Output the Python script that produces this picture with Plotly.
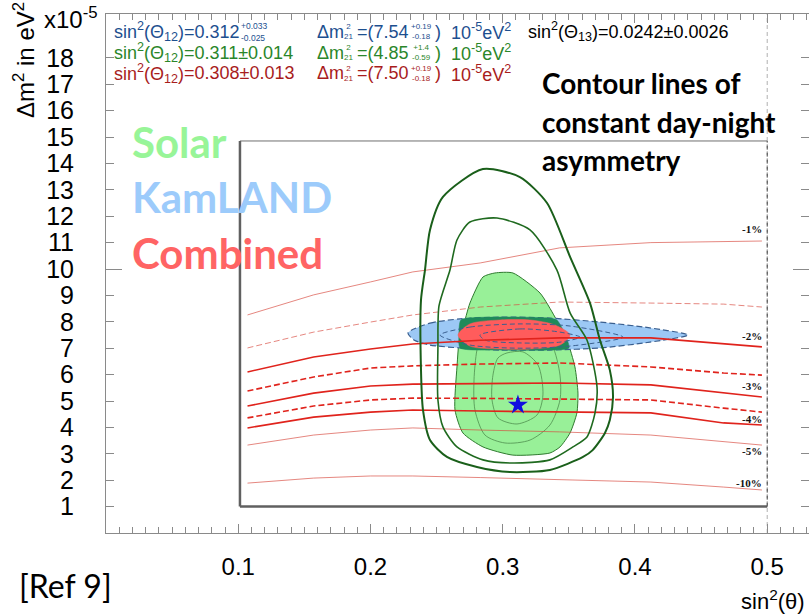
import plotly.graph_objects as go

# ---------------- data ----------------
# day-night asymmetry contour lines (common x grid)
dn_x = [0.107, 0.157, 0.200, 0.232, 0.283, 0.343, 0.412, 0.467, 0.496]
dn_m1 = [8.26, 9.02, 9.51, 9.89, 10.23, 10.80, 11.00, 11.04, 11.06]
dn_m15 = [7.01, 7.61, 7.99, 8.26, 8.56, 8.75, 8.71, 8.67, 8.56]
dn_m2 = [6.10, 6.67, 6.97, 7.16, 7.30, 7.39, 7.39, 7.16, 7.05]
dn_m25 = [5.38, 5.91, 6.25, 6.33, 6.40, 6.44, 6.29, 6.06, 5.98]
dn_m3 = [4.81, 5.30, 5.57, 5.64, 5.66, 5.68, 5.61, 5.30, 5.15]
dn_m35 = [4.36, 4.81, 5.04, 5.11, 5.10, 5.08, 5.04, 4.73, 4.58]
dn_m4 = [3.98, 4.39, 4.58, 4.66, 4.62, 4.58, 4.55, 4.17, 4.09]
dn_m5 = [3.33, 3.71, 3.90, 3.98, 3.90, 3.83, 3.71, 3.45, 3.33]
dn_m10 = [1.89, 2.08, 2.16, 2.16, 2.10, 2.01, 1.93, 1.74, 1.63]

dn_labels = ["-1%", "-2%", "-3%", "-4%", "-5%", "-10%"]
dn_label_y = [11.50, 7.45, 5.56, 4.30, 3.10, 1.90]

# Solar contours
solar_out_x = [0.285, 0.313, 0.3335, 0.351, 0.366, 0.3735, 0.381, 0.3834, 0.381, 0.3773,
               0.368, 0.3607, 0.3357, 0.3055, 0.2805, 0.2578, 0.245, 0.2397, 0.2382,
               0.2382, 0.2412, 0.245, 0.2548]
solar_out_y = [13.79, 13.48, 12.50, 10.45, 8.71, 7.31, 6.17, 5.15, 4.28, 3.79,
               3.14, 2.88, 2.39, 2.31, 2.50, 2.88, 3.52, 4.66, 6.17,
               8.83, 9.96, 11.48, 12.73]

solar_mid_x = [0.2957, 0.3206, 0.341, 0.351, 0.3637, 0.3713, 0.3698, 0.3637, 0.3531,
               0.3357, 0.3077, 0.2851, 0.2654, 0.2548, 0.251, 0.251, 0.2518, 0.2601,
               0.2654, 0.2752]
solar_mid_y = [11.93, 11.48, 9.96, 8.33, 7.31, 5.53, 4.55, 3.64, 3.26,
               2.77, 2.65, 2.77, 3.26, 4.02, 5.04, 7.00, 8.60, 9.96,
               11.10, 11.78]

solar_fill_x = [0.2941, 0.3077, 0.3282, 0.3395, 0.3486, 0.3546, 0.3569, 0.3561, 0.3509,
                0.3433, 0.3357, 0.3077, 0.2851, 0.2699, 0.2639, 0.2654, 0.2677, 0.2699,
                0.2752, 0.2851]
solar_fill_y = [9.85, 9.85, 9.09, 8.18, 7.31, 6.29, 5.30, 4.55, 3.79,
                3.26, 3.03, 2.95, 3.26, 3.79, 4.66, 6.29, 7.58, 7.80,
                8.71, 9.70]

solar_in2_x = [0.290, 0.3206, 0.3372, 0.3433, 0.3433, 0.3357, 0.3206, 0.3017, 0.2866,
               0.279, 0.2783, 0.2805, 0.2851]
solar_in2_y = [8.07, 7.99, 7.12, 5.98, 5.04, 4.09, 3.52, 3.41, 3.71,
               4.66, 5.80, 6.93, 7.69]

solar_in1_x = [0.3032, 0.3153, 0.3267, 0.3304, 0.3259, 0.3108, 0.2964, 0.2919, 0.2926, 0.2964]
solar_in1_y = [6.82, 6.86, 6.36, 5.23, 4.47, 4.13, 4.36, 5.04, 5.98, 6.63]

# KamLAND region and inner dashed contours
kam_x = [0.2284, 0.245, 0.2677, 0.2979, 0.3357, 0.3735, 0.4113, 0.4401,
         0.4113, 0.3735, 0.3357, 0.2979, 0.2677, 0.245, 0.2329]
kam_y = [7.58, 7.95, 8.11, 8.18, 8.14, 7.99, 7.77, 7.50,
         7.23, 7.01, 6.93, 6.93, 7.01, 7.12, 7.31]
kam_in_x = [0.2526, 0.2752, 0.3130, 0.3508, 0.3909, 0.3508, 0.3130, 0.2752]
kam_in_y = [7.50, 7.80, 7.92, 7.84, 7.42, 7.08, 7.00, 7.12]
kam_in2_x = [0.2828, 0.3130, 0.3433, 0.3584, 0.3433, 0.3130, 0.2866]
kam_in2_y = [7.50, 7.73, 7.61, 7.42, 7.23, 7.20, 7.31]

# overlap Solar x KamLAND
ovl_x = [0.2684, 0.2979, 0.3357, 0.341, 0.3456, 0.3501, 0.3357, 0.2979, 0.2677, 0.2669]
ovl_y = [8.07, 8.18, 8.14, 8.07, 7.69, 7.01, 6.93, 6.93, 7.01, 7.50]

# Combined region
comb_x = [0.2662, 0.2752, 0.2979, 0.3206, 0.3395, 0.3509, 0.3433, 0.3206, 0.2979, 0.2752]
comb_y = [7.50, 7.92, 8.07, 8.07, 7.88, 7.50, 7.12, 6.97, 6.97, 7.08]

best_x = [0.3115]
best_y = [4.85]

x_tick_vals = [0.1, 0.2, 0.3, 0.4, 0.5]
x_tick_text = ["0.1", "0.2", "0.3", "0.4", "0.5"]
y_tick_vals = list(range(1, 19))
y_tick_text = [str(v) for v in y_tick_vals]

# fit-result texts
fit_colors = ["#1d4f8f", "#2a862a", "#a81c1c"]
fit_s12 = ["=0.312", "=0.311±0.014", "=0.308±0.013"]
fit_s12_err = [("+0.033", "-0.025"), None, None]
fit_dm = ["=(7.54", "=(4.85", "=(7.50"]
fit_dm_err = [("+0.19", "-0.18"), ("+1.4", "-0.59"), ("+0.19", "-0.18")]

# ---------------- figure ----------------
W, H = 809, 616
L, T, B = 106, 14, 83
PW, PH = W - L, H - T - B
XR = [0, 0.5316]
YR = [0, 19.66]

fig = go.Figure()


def closed(xs, ys):
    return xs + xs[:1], ys + ys[:1]


# solar light-green filled region
fx, fy = closed(solar_fill_x, solar_fill_y)
fig.add_trace(go.Scatter(x=fx, y=fy, mode="lines", fill="toself", fillcolor="#98f098",
                         line=dict(color="#2f7a2f", width=1, shape="spline", smoothing=0.6),
                         hoverinfo="skip"))
for xs, ys in [(solar_in2_x, solar_in2_y), (solar_in1_x, solar_in1_y)]:
    cx, cy = closed(xs, ys)
    fig.add_trace(go.Scatter(x=cx, y=cy, mode="lines",
                             line=dict(color="#4f8f4f", width=0.8, shape="spline", smoothing=0.8),
                             hoverinfo="skip"))

# KamLAND
kx, ky = closed(kam_x, kam_y)
fig.add_trace(go.Scatter(x=kx, y=ky, mode="lines", fill="toself", fillcolor="#9cc8f5",
                         line=dict(color="#3a5f8f", width=1.2, dash="6px,3px", shape="spline", smoothing=0.7),
                         hoverinfo="skip"))
ox, oy = closed(ovl_x, ovl_y)
fig.add_trace(go.Scatter(x=ox, y=oy, mode="lines", fill="toself", fillcolor="#1f8a5a",
                         line=dict(color="#1f8a5a", width=0.5, shape="spline", smoothing=0.6),
                         hoverinfo="skip"))
cx, cy = closed(comb_x, comb_y)
fig.add_trace(go.Scatter(x=cx, y=cy, mode="lines", fill="toself", fillcolor="#ff5c5c",
                         line=dict(color="#ff5c5c", width=0.5, shape="spline", smoothing=0.8),
                         hoverinfo="skip"))
for xs, ys in [(kam_in_x, kam_in_y), (kam_in2_x, kam_in2_y)]:
    ix, iy = closed(xs, ys)
    fig.add_trace(go.Scatter(x=ix, y=iy, mode="lines",
                             line=dict(color="#3a5f8f", width=1, dash="5px,3px", shape="spline", smoothing=0.8),
                             hoverinfo="skip"))

# day-night lines
light = "rgba(215,70,60,0.65)"
strong = "#e0231c"
dn_series = [
    (dn_m1, light, 1, "solid"),
    (dn_m15, light, 1, "6px,3px"),
    (dn_m2, strong, 1.6, "solid"),
    (dn_m25, strong, 1.6, "6px,3px"),
    (dn_m3, strong, 1.6, "solid"),
    (dn_m35, strong, 1.6, "6px,3px"),
    (dn_m4, strong, 1.6, "solid"),
    (dn_m5, light, 1, "solid"),
    (dn_m10, light, 1, "solid"),
]
for ys, col, wdt, dash in dn_series:
    fig.add_trace(go.Scatter(x=dn_x, y=ys, mode="lines",
                             line=dict(color=col, width=wdt, dash=dash), hoverinfo="skip"))

# solar outer contours (drawn on top)
mx, my = closed(solar_mid_x, solar_mid_y)
fig.add_trace(go.Scatter(x=mx, y=my, mode="lines",
                         line=dict(color="#1f6a1f", width=1.6, shape="spline", smoothing=0.7),
                         hoverinfo="skip"))
ux, uy = closed(solar_out_x, solar_out_y)
fig.add_trace(go.Scatter(x=ux, y=uy, mode="lines",
                         line=dict(color="#1a5f1a", width=2, shape="spline", smoothing=0.7),
                         hoverinfo="skip"))

fig.add_trace(go.Scatter(x=best_x, y=best_y, mode="markers",
                         marker=dict(symbol="star", size=15, color="#1010e0", line=dict(width=0)),
                         hoverinfo="skip"))

# invisible trace carrying the secondary y axis (long tick at 10)
fig.add_trace(go.Scatter(x=[None], y=[None], yaxis="y2", mode="markers", hoverinfo="skip"))

ann = []


def txt(X, Y, s, size, color="black", family="Liberation Sans", anchor="left", angle=0, yanchor="middle"):
    ann.append(dict(xref="paper", yref="paper", x=(X - L) / PW, y=(H - B - Y) / PH,
                    text=s, showarrow=False, xanchor=anchor, yanchor=yanchor,
                    font=dict(size=size, color=color, family=family), textangle=angle,
                    borderpad=0))


def span(s, col):
    return '<span style="color:%s">%s</span>' % (col, s)


ROW0, PITCH = 32, 20.5
# parameter rows
for i in range(3):
    col = fit_colors[i]
    yc = ROW0 + PITCH * i
    txt(113, yc, "sin<sup>2</sup>(Θ<sub>12</sub>)", 18, col)
    txt(183, yc, fit_s12[i], 18, col)
    txt(316, yc, "Δm", 18, col)
    txt(356, yc, fit_dm[i], 18, col)
    txt(434, yc, ")", 18, col)
    txt(450, yc, "10<sup>-5</sup>eV<sup>2</sup>", 18, col)

# stacked scripts: one block per column so rows stay aligned
mid = ROW0 + PITCH
s12_err = fit_s12_err[0]
txt(240, ROW0 - 0.3, s12_err[0], 8.5, fit_colors[0], yanchor="bottom")
txt(240, ROW0 + 0.3, s12_err[1], 8.5, fit_colors[0], yanchor="top")
idx_lines = []
err_lines = []
for i in range(3):
    idx_lines += [span("2", fit_colors[i]), span("21", fit_colors[i])]
    err_lines += [span(fit_dm_err[i][0], fit_colors[i]), span(fit_dm_err[i][1], fit_colors[i])]
txt(343, mid, "<br>".join(idx_lines), 8, "black")
txt(410, mid, "<br>".join(err_lines), 8, "black")

txt(527, 32, "sin<sup>2</sup>(Θ<sub>13</sub>)=0.0242±0.0026", 18, "black")

# big labels
txt(131, 142, "<b>Solar</b>", 42, "#98f598", "Lato")
txt(131, 197, "<b>KamLAND</b>", 42, "#9ccbfb", "Lato")
txt(131, 253, "<b>Combined</b>", 42, "#ff6464", "Lato")
txt(541, 83, "<b>Contour lines of</b>", 28, "black", "Lato")
txt(541, 122, "<b>constant day-night</b>", 28, "black", "Lato")
txt(541, 160, "<b>asymmetry</b>", 28, "black", "Lato")

# axes texts
txt(24, 60, "Δm<sup>2</sup> in eV<sup>2</sup>", 24, "black", angle=-90, anchor="center")
txt(43, 18, "x10<sup>-5</sup>", 24, "black")
txt(773, 600, "sin<sup>2</sup>(θ)", 22, "black", anchor="center")
txt(18, 585, "[Ref 9]", 32, "black", "Lato")

for lab, ly in zip(dn_labels, dn_label_y):
    ann.append(dict(xref="x", yref="y", x=0.4975, y=ly, text="<b>" + lab + "</b>", showarrow=False,
                    xanchor="right", yanchor="middle",
                    font=dict(size=11, color="#111", family="Liberation Serif")))

shapes = [
    # dashed line at sin^2 = 0.5 over full height
    dict(type="line", xref="x", yref="paper", x0=0.5, x1=0.5, y0=0, y1=1,
         line=dict(color="#b0b0b0", width=1, dash="4px,3px"), layer="below"),
    # inner box frame
    dict(type="line", xref="x", yref="y", x0=0.1013, x1=0.5, y0=14.85, y1=14.85,
         line=dict(color="#707070", width=1)),
    dict(type="line", xref="x", yref="y", x0=0.1013, x1=0.1013, y0=1.0, y1=14.85,
         line=dict(color="#606060", width=2.5)),
    dict(type="line", xref="x", yref="y", x0=0.1013, x1=0.5, y0=1.0, y1=1.0,
         line=dict(color="#606060", width=2.5)),
    dict(type="line", xref="x", yref="y", x0=0.5, x1=0.5, y0=1.0, y1=14.85,
         line=dict(color="#404040", width=1, dash="4px,3px")),
]

fig.update_layout(
    width=W, height=H, margin=dict(l=L, r=0, t=T, b=B),
    paper_bgcolor="white", plot_bgcolor="white", showlegend=False,
    annotations=ann, shapes=shapes,
    xaxis=dict(range=XR, showgrid=False, zeroline=False, showline=True, linecolor="#8a8a8a",
               linewidth=1, mirror="ticks", ticks="inside", ticklen=9, tickcolor="#8a8a8a",
               tickmode="array", tickvals=x_tick_vals, ticktext=x_tick_text,
               tickfont=dict(size=24, family="Liberation Sans", color="black"),
               ticklabelstandoff=12,
               minor=dict(tickmode="linear", tick0=0, dtick=0.01, ticks="inside", ticklen=6,
                          tickcolor="#8a8a8a")),
    yaxis=dict(range=YR, showgrid=False, zeroline=False, showline=True, linecolor="#8a8a8a",
               linewidth=1, mirror="ticks", ticks="inside", ticklen=8, tickcolor="#8a8a8a",
               tickmode="array", tickvals=y_tick_vals, ticktext=y_tick_text,
               tickfont=dict(size=25, family="Liberation Sans", color="black"),
               ticklabelstandoff=26),
    yaxis2=dict(range=YR, overlaying="y", side="left", showgrid=False, zeroline=False,
                showline=False, ticks="inside", ticklen=16, tickcolor="#8a8a8a",
                tickmode="array", tickvals=[10], showticklabels=False, mirror="ticks"),
)

fig.write_html("out.html")
